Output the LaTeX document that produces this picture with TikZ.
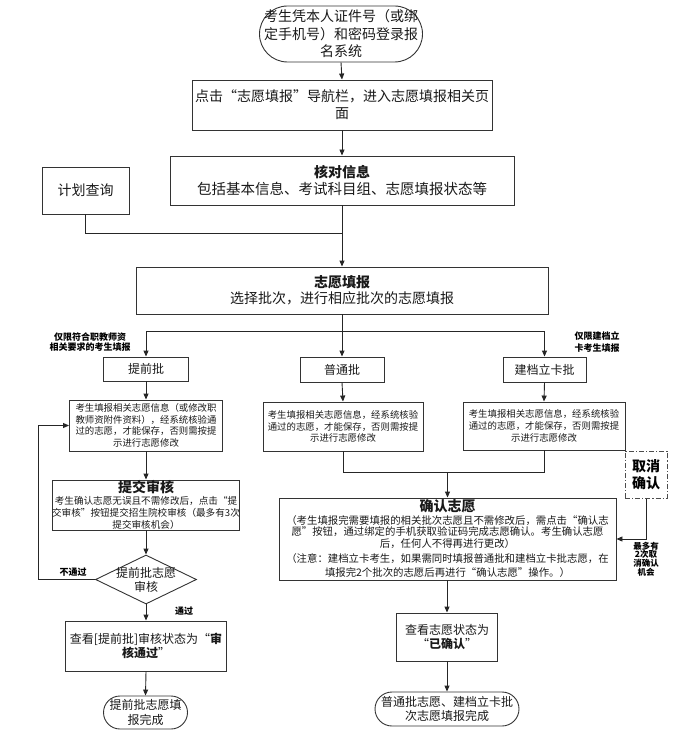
\documentclass[tikz,border=0pt]{standalone}
\usepackage{fontspec}
\setmainfont{Noto Sans CJK SC}
\usetikzlibrary{arrows.meta,shapes.geometric}
\newcommand{\fsz}[2]{\fontsize{#1pt}{#2pt}\selectfont}
\begin{document}
\begin{tikzpicture}[x=1pt,y=-1pt,
  box/.style={draw=black!80, line width=0.9pt, rectangle, inner sep=0pt, align=center, text=black!90},
  arr/.style={-{Triangle[length=6pt,width=5pt]}, line width=0.9pt, draw=black!85},
  ln/.style={line width=0.9pt, draw=black!85},
  lbl/.style={inner sep=0pt, align=center, font=\bfseries\fsz{9}{10.5}},
  small/.style={font=\fsz{9.4}{11.7}},
]
\useasboundingbox (0,0) rectangle (681,751);

% top start
\node[box, rounded corners=28pt, minimum width=163pt, minimum height=56pt, font=\fsz{14}{17.5}] (start) at (341,34)
  {考生凭本人证件号（或绑\\定手机号）和密码登录报\\名系统};
\node[box, minimum width=300pt, minimum height=50pt, font=\fsz{14}{17}] (nav) at (342,105)
  {点击“志愿填报”导航栏，进入志愿填报相关页\\面};
\node[box, minimum width=344pt, minimum height=49pt, font=\fsz{14.5}{17}] (chk) at (342,180.5)
  {{\bfseries\fsz{14}{17}核对信息}\\包括基本信息、考试科目组、志愿填报状态等};
\node[box, minimum width=87pt, minimum height=47pt, font=\fsz{14}{17}] (plan) at (85.5,190.5) {计划查询};
\node[box, minimum width=412pt, minimum height=47pt, font=\fsz{14}{16}] (fill) at (342,290.5)
  {{\bfseries\fsz{14}{16}志愿填报}\\选择批次，进行相应批次的志愿填报};

% batch boxes
\node[box, minimum width=85pt, minimum height=24pt, font=\fsz{12}{14}] (tq) at (146,369) {提前批};
\node[box, minimum width=84pt, minimum height=25pt, font=\fsz{12}{14}] (pt) at (342,369.5) {普通批};
\node[box, minimum width=83pt, minimum height=25pt, font=\fsz{12}{14}] (jd) at (544.5,369.5) {建档立卡批};

\node[lbl] (l1) at (90,342) {仅限符合职教师资\\相关要求的考生填报};
\node[lbl, font=\bfseries\fsz{9}{12}] (l2) at (597,342) {仅限建档立\\卡考生填报};

% detail boxes
\node[box, small, minimum width=153pt, minimum height=51pt] (tqd) at (146,425.5)
  {考生填报相关志愿信息（或修改职\\教师资附件资料），经系统核验通\\过的志愿，才能保存，否则需按提\\示进行志愿修改};
\node[box, small, minimum width=160pt, minimum height=49pt] (ptd) at (343,426.5)
  {考生填报相关志愿信息，经系统核验\\通过的志愿，才能保存，否则需按提\\示进行志愿修改};
\node[box, small, minimum width=162pt, minimum height=48pt] (jdd) at (544,426)
  {考生填报相关志愿信息，经系统核验\\通过的志愿，才能保存，否则需按提\\示进行志愿修改};

% left branch
\node[box, minimum width=187pt, minimum height=50pt, font=\fsz{9.6}{11.8}] (sub) at (146,505)
  {{\bfseries\fsz{14}{14}提交审核}\\[0.5pt]考生确认志愿无误且不需修改后，点击“提\\交审核”按钮提交招生院校审核（最多有3次\\提交审核机会）};
\node[draw=black!80, line width=0.9pt, diamond, inner sep=0pt, minimum width=101pt, minimum height=49pt] (dia) at (146,579.5) {};
\node[inner sep=0pt, align=center, font=\fsz{12}{14}, text=black!90] (diat) at (dia.center) {提前批志愿\\审核};
\node[box, minimum width=161pt, minimum height=50pt, font=\fsz{12}{14}] (view1) at (146,646)
  {查看[提前批]审核状态为“\textbf{审}\\\textbf{核通过}”};
\node[box, rounded corners=16.5pt, minimum width=84pt, minimum height=33pt, font=\fsz{12}{15}] (end1) at (145.5,712.5)
  {提前批志愿填\\报完成};
\node[lbl] (nopass) at (73,572) {不通过};
\node[lbl] (pass) at (184,611) {通过};
\coordinate (lx) at (38,0);

% right part
\node[box, minimum width=337pt, minimum height=82pt, font=\fsz{10.4}{11.5}] (qr) at (447.5,539)
  {{\bfseries\fsz{14}{14}确认志愿}\\[1pt]（考生填报完需要填报的相关批次志愿且不需修改后，需点击“确认志\\愿”按钮，通过绑定的手机获取验证码完成志愿确认。考生确认志愿\\后，任何人不得再进行更改）\\[4pt]（注意：建档立卡考生，如果需同时填报普通批和建档立卡批志愿，在\\[2.5pt]填报完2个批次的志愿后再进行“确认志愿”操作。）};
\node[draw=black!70, line width=1pt, dash pattern=on 5pt off 2pt on 1.2pt off 2pt, rectangle, inner sep=0pt, align=center,
  minimum width=42pt, minimum height=47pt, font=\bfseries\fsz{14}{17}] (cancel) at (646,474.5) {取消\\确认};
\node[lbl, font=\bfseries\fsz{8.5}{8.8}] (l3) at (646,559) {最多有\\2次取\\消确认\\机会};
\node[box, minimum width=101pt, minimum height=48pt, font=\fsz{12}{13.5}] (view2) at (447,637)
  {查看志愿状态为\\“\textbf{已确认}”};
\node[box, rounded corners=17pt, minimum width=144pt, minimum height=34pt, font=\fsz{12}{14}] (end2) at (447,709)
  {普通批志愿、建档立卡批\\次志愿填报完成};

\coordinate (j1) at (342,233);
\coordinate (br) at (342,331);
\coordinate (mg) at (447.5,472);

% connectors
\draw[arr] (start.south) -- (nav.north);
\draw[arr] (nav.south) -- (chk.north);
\draw[arr] (chk.south) -- (fill.north);
\draw[ln] (plan.south) |- (j1);
\draw[arr] (fill.south) -- (pt.north);
\draw[arr] (br) -| (tq.north);
\draw[arr] (br) -| (jd.north);
\draw[arr] (tq.south) -- (tqd.north);
\draw[arr] (pt.south) -- (ptd.north);
\draw[arr] (jd.south) -- (jdd.north);
\draw[arr] (tqd.south) -- (sub.north);
\draw[arr] (sub.south) -- (dia.north);
\draw[arr] (dia.west) -- (dia.west -| lx) |- (tqd.west);
\draw[arr] (dia.south) -- (view1.north);
\draw[arr] (view1.south) -- (end1.north);
\draw[ln] (ptd.south) |- (mg);
\draw[ln] (jdd.south) |- (mg);
\draw[arr] (mg) -- (qr.north);
\draw[arr] (cancel.south) |- (qr.east);
\draw[arr] (qr.south -| view2.north) -- (view2.north);
\draw[arr] (view2.south) -- (end2.north);
\end{tikzpicture}
\end{document}
